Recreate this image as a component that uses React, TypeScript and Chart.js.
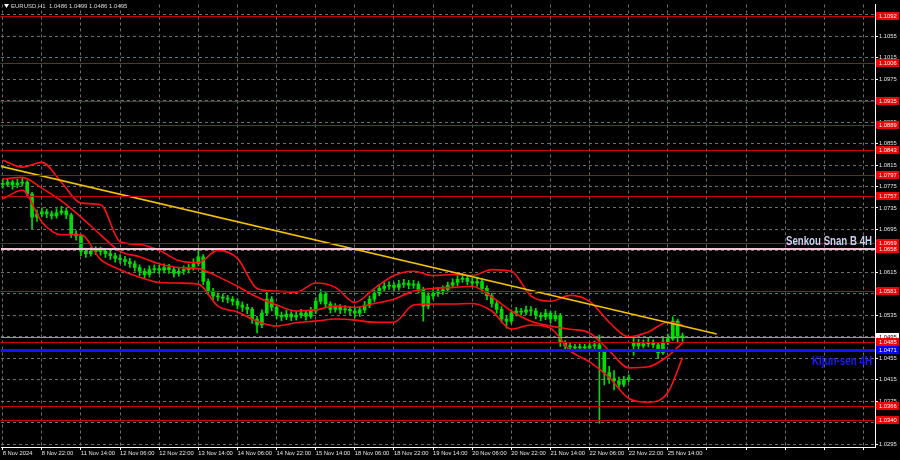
import React, { useEffect, useRef } from "react";
import { Chart, registerables } from "chart.js";

Chart.register(...registerables);

// ---------- data ----------
const titleText = "EURUSD,H1  1.0486 1.0499 1.0486 1.0495";

const timeLabels = [
  "8 Nov 2024", "8 Nov 22:00", "11 Nov 14:00", "12 Nov 06:00", "12 Nov 22:00", "13 Nov 14:00",
  "14 Nov 06:00", "14 Nov 22:00", "15 Nov 14:00", "18 Nov 06:00", "18 Nov 22:00", "19 Nov 14:00",
  "20 Nov 06:00", "20 Nov 22:00", "21 Nov 14:00", "22 Nov 06:00", "22 Nov 22:00", "25 Nov 14:00",
];

const priceTicks = [
  1.0295, 1.0335, 1.0375, 1.0415, 1.0455, 1.0495, 1.0535, 1.0575, 1.0615, 1.0655, 1.0695,
  1.0735, 1.0775, 1.0815, 1.0855, 1.0895, 1.0935, 1.0975, 1.1015, 1.1055, 1.1095,
];

const opens = [
  1.0781, 1.0779, 1.0783, 1.0778, 1.0781, 1.0783, 1.0761, 1.0718, 1.0724, 1.0728,
  1.0724, 1.0720, 1.0726, 1.0729, 1.0722, 1.0687, 1.0683, 1.0654, 1.0650, 1.0654,
  1.0656, 1.0654, 1.0650, 1.0646, 1.0641, 1.0639, 1.0635, 1.0631, 1.0624, 1.0617,
  1.0611, 1.0620, 1.0622, 1.0619, 1.0624, 1.0620, 1.0613, 1.0617, 1.0620, 1.0624,
  1.0631, 1.0644, 1.0598, 1.0580, 1.0571, 1.0569, 1.0567, 1.0565, 1.0561, 1.0554,
  1.0550, 1.0546, 1.0528, 1.0517, 1.0539, 1.0565, 1.0550, 1.0535, 1.0532, 1.0537,
  1.0532, 1.0535, 1.0539, 1.0533, 1.0543, 1.0561, 1.0574, 1.0556, 1.0546, 1.0550,
  1.0545, 1.0546, 1.0543, 1.0539, 1.0545, 1.0554, 1.0565, 1.0576, 1.0585, 1.0589,
  1.0591, 1.0587, 1.0593, 1.0595, 1.0591, 1.0593, 1.0583, 1.0552, 1.0571, 1.0576,
  1.0580, 1.0583, 1.0591, 1.0596, 1.0602, 1.0604, 1.0598, 1.0595, 1.0598, 1.0585,
  1.0571, 1.0557, 1.0546, 1.0528, 1.0524, 1.0539, 1.0543, 1.0541, 1.0545, 1.0543,
  1.0535, 1.0532, 1.0539, 1.0528, 1.0535, 1.0484, 1.0478, 1.0476, 1.0474, 1.0476,
  1.0474, 1.0478, 1.0480, 1.0469, 1.0428, 1.0417, 1.0413, 1.0406, 1.0415, 1.0478,
  1.0484, 1.0478, 1.0482, 1.0484, 1.0480, 1.0465, 1.0485, 1.0491, 1.0524, 1.0496,
];

const closes = [
  1.0779, 1.0783, 1.0778, 1.0781, 1.0783, 1.0761, 1.0718, 1.0724, 1.0728, 1.0724,
  1.0720, 1.0726, 1.0729, 1.0722, 1.0687, 1.0683, 1.0654, 1.0650, 1.0654, 1.0656,
  1.0654, 1.0650, 1.0646, 1.0641, 1.0639, 1.0635, 1.0631, 1.0624, 1.0617, 1.0611,
  1.0620, 1.0622, 1.0619, 1.0624, 1.0620, 1.0613, 1.0617, 1.0620, 1.0624, 1.0631,
  1.0644, 1.0598, 1.0580, 1.0571, 1.0569, 1.0567, 1.0565, 1.0561, 1.0554, 1.0550,
  1.0546, 1.0528, 1.0517, 1.0539, 1.0565, 1.0550, 1.0535, 1.0532, 1.0537, 1.0532,
  1.0535, 1.0539, 1.0533, 1.0543, 1.0561, 1.0574, 1.0556, 1.0546, 1.0550, 1.0545,
  1.0546, 1.0543, 1.0539, 1.0545, 1.0554, 1.0565, 1.0576, 1.0585, 1.0589, 1.0591,
  1.0587, 1.0593, 1.0595, 1.0591, 1.0593, 1.0583, 1.0552, 1.0571, 1.0576, 1.0580,
  1.0583, 1.0591, 1.0596, 1.0602, 1.0604, 1.0598, 1.0595, 1.0598, 1.0585, 1.0571,
  1.0557, 1.0546, 1.0528, 1.0524, 1.0539, 1.0543, 1.0541, 1.0545, 1.0543, 1.0535,
  1.0532, 1.0539, 1.0528, 1.0535, 1.0484, 1.0478, 1.0476, 1.0474, 1.0476, 1.0474,
  1.0478, 1.0480, 1.0469, 1.0428, 1.0417, 1.0413, 1.0406, 1.0415, 1.0419, 1.0484,
  1.0478, 1.0482, 1.0484, 1.0480, 1.0465, 1.0485, 1.0491, 1.0524, 1.0496, 1.0495,
];

const highs = [
  1.0788, 1.0790, 1.0787, 1.0789, 1.0792, 1.0786, 1.0764, 1.0731, 1.0735, 1.0733,
  1.0729, 1.0734, 1.0738, 1.0735, 1.0725, 1.0693, 1.0686, 1.0660, 1.0661, 1.0663,
  1.0662, 1.0659, 1.0656, 1.0651, 1.0648, 1.0645, 1.0641, 1.0636, 1.0629, 1.0622,
  1.0627, 1.0629, 1.0628, 1.0631, 1.0630, 1.0625, 1.0624, 1.0627, 1.0631, 1.0640,
  1.0656, 1.0648, 1.0603, 1.0585, 1.0577, 1.0575, 1.0572, 1.0570, 1.0566, 1.0560,
  1.0556, 1.0550, 1.0533, 1.0545, 1.0580, 1.0570, 1.0555, 1.0541, 1.0544, 1.0542,
  1.0542, 1.0546, 1.0543, 1.0550, 1.0568, 1.0583, 1.0578, 1.0560, 1.0557, 1.0555,
  1.0553, 1.0551, 1.0548, 1.0551, 1.0561, 1.0571, 1.0582, 1.0592, 1.0596, 1.0598,
  1.0596, 1.0600, 1.0602, 1.0600, 1.0600, 1.0598, 1.0587, 1.0577, 1.0583, 1.0587,
  1.0590, 1.0597, 1.0603, 1.0609, 1.0613, 1.0610, 1.0604, 1.0606, 1.0603, 1.0590,
  1.0576, 1.0562, 1.0551, 1.0533, 1.0545, 1.0550, 1.0548, 1.0552, 1.0551, 1.0548,
  1.0540, 1.0546, 1.0543, 1.0543, 1.0538, 1.0488, 1.0483, 1.0481, 1.0482, 1.0481,
  1.0484, 1.0487, 1.0498, 1.0472, 1.0440, 1.0432, 1.0420, 1.0421, 1.0424, 1.0492,
  1.0490, 1.0489, 1.0492, 1.0489, 1.0484, 1.0492, 1.0500, 1.0532, 1.0528, 1.0502,
];

const lows = [
  1.0772, 1.0775, 1.0770, 1.0773, 1.0776, 1.0755, 1.0696, 1.0710, 1.0719, 1.0717,
  1.0714, 1.0716, 1.0722, 1.0715, 1.0680, 1.0675, 1.0646, 1.0643, 1.0645, 1.0648,
  1.0647, 1.0643, 1.0639, 1.0634, 1.0632, 1.0628, 1.0624, 1.0617, 1.0609, 1.0604,
  1.0606, 1.0614, 1.0612, 1.0614, 1.0613, 1.0606, 1.0608, 1.0611, 1.0614, 1.0619,
  1.0627, 1.0592, 1.0573, 1.0564, 1.0562, 1.0560, 1.0558, 1.0554, 1.0547, 1.0542,
  1.0538, 1.0520, 1.0502, 1.0512, 1.0535, 1.0543, 1.0528, 1.0525, 1.0527, 1.0525,
  1.0526, 1.0530, 1.0526, 1.0529, 1.0538, 1.0556, 1.0550, 1.0539, 1.0541, 1.0538,
  1.0539, 1.0536, 1.0531, 1.0533, 1.0540, 1.0549, 1.0560, 1.0571, 1.0580, 1.0583,
  1.0580, 1.0582, 1.0587, 1.0584, 1.0585, 1.0576, 1.0524, 1.0547, 1.0565, 1.0570,
  1.0574, 1.0578, 1.0586, 1.0590, 1.0596, 1.0592, 1.0588, 1.0589, 1.0578, 1.0564,
  1.0550, 1.0539, 1.0521, 1.0511, 1.0520, 1.0534, 1.0535, 1.0536, 1.0536, 1.0528,
  1.0525, 1.0527, 1.0521, 1.0524, 1.0477, 1.0470, 1.0470, 1.0468, 1.0469, 1.0468,
  1.0469, 1.0472, 1.0334, 1.0405, 1.0408, 1.0396, 1.0398, 1.0402, 1.0411, 1.0460,
  1.0472, 1.0474, 1.0476, 1.0474, 1.0454, 1.0462, 1.0480, 1.0488, 1.0484, 1.0486,
];

const bandIndex = [
  0, 4, 8, 12, 16, 20, 24, 28, 32, 36, 40, 44, 48, 52, 56, 60, 64, 68,
  72, 76, 80, 84, 88, 92, 96, 100, 104, 108, 112, 116, 120, 124, 128, 132, 136, 139,
];
const upperBand = [
  1.0824, 1.0811, 1.0820, 1.0783, 1.0744, 1.0741, 1.0672, 1.0667, 1.0656, 1.0637, 1.0633, 1.0656,
  1.0641, 1.0585, 1.0580, 1.0578, 1.0595, 1.0587, 1.0559, 1.0585, 1.0609, 1.0617, 1.0609, 1.0611,
  1.0609, 1.0620, 1.0617, 1.0571, 1.0561, 1.0572, 1.0561, 1.0522, 1.0495, 1.0504, 1.0522, 1.0517,
];
const middleBand = [
  1.0789, 1.0792, 1.0772, 1.0748, 1.0718, 1.0685, 1.0654, 1.0644, 1.0631, 1.0624, 1.0622, 1.0607,
  1.0589, 1.0569, 1.0554, 1.0543, 1.0545, 1.0552, 1.0550, 1.0557, 1.0565, 1.0580, 1.0585, 1.0587,
  1.0589, 1.0569, 1.0543, 1.0524, 1.0515, 1.0509, 1.0502, 1.0469, 1.0437, 1.0439, 1.0459, 1.0484,
];
const lowerBand = [
  1.0752, 1.0768, 1.0709, 1.0685, 1.0685, 1.0639, 1.0620, 1.0606, 1.0596, 1.0595, 1.0593, 1.0552,
  1.0541, 1.0524, 1.0515, 1.0521, 1.0524, 1.0528, 1.0526, 1.0522, 1.0522, 1.0554, 1.0556, 1.0556,
  1.0557, 1.0543, 1.0509, 1.0517, 1.0511, 1.0469, 1.0448, 1.0419, 1.0380, 1.0373, 1.0391, 1.0456,
];

const trendIndex = [-0.55, 146];
const trendPrice = [1.0813, 1.05];

const redLevels = [1.1092, 1.1006, 1.0935, 1.0889, 1.0843, 1.0797, 1.0757, 1.0669, 1.0581, 1.0485, 1.0366, 1.034];
const senkouSpanB = 1.0658;
const kijunSen = 1.0471;
const lastClose = 1.0495;
const senkouText = "Senkou Snan B 4H";
const kijunText = "Kijun-sen 4H";

// ---------- layout ----------
const X_MIN = -0.35;
const X_MAX = 178.35;
const Y_MIN = 1.02895;
const Y_MAX = 1.11142;
const FONT = '"Liberation Sans", Arial, sans-serif';

const mtPlugin = {
  id: "mtOverlay",
  afterDatasetsDraw(chart: any) {
    const { ctx, chartArea: a } = chart;
    const y = chart.scales.y;
    ctx.save();
    ctx.beginPath();
    ctx.rect(a.left, a.top, a.right - a.left, a.bottom - a.top);
    ctx.clip();
    const hline = (v: number, color: string, w: number) => {
      const py = Math.round(y.getPixelForValue(v)) + (w % 2 ? 0.5 : 0);
      ctx.strokeStyle = color;
      ctx.lineWidth = w;
      ctx.setLineDash([]);
      ctx.beginPath();
      ctx.moveTo(a.left, py);
      ctx.lineTo(a.right, py);
      ctx.stroke();
    };
    hline(lastClose, "#8c96a8", 1);
    redLevels.forEach((v) => hline(v, "#c80000", 1));
    hline(senkouSpanB, "#f2c6d6", 2);
    hline(kijunSen, "#1414ff", 3);

    const label = (text: string, v: number, dy: number, color: string, width: number) => {
      ctx.font = `bold 12px ${FONT}`;
      const w = ctx.measureText(text).width;
      const sx = width / w;
      const py = y.getPixelForValue(v) + dy;
      ctx.save();
      ctx.translate(a.right - 3 - width, py);
      ctx.scale(sx, 1);
      ctx.textAlign = "left";
      ctx.textBaseline = "alphabetic";
      ctx.fillStyle = color;
      ctx.fillText(text, 0, 0);
      ctx.restore();
    };
    label(senkouText, senkouSpanB, -4, "#cfd0ee", 86);
    label(kijunText, kijunSen, 15, "#1a1aff", 60);
    ctx.restore();
  },
  afterDraw(chart: any) {
    const { ctx, chartArea: a } = chart;
    const y = chart.scales.y;
    ctx.save();
    const box = (v: number, bg: string, fg: string) => {
      const py = y.getPixelForValue(v);
      ctx.fillStyle = bg;
      ctx.fillRect(a.right + 1, Math.round(py) - 4, 23, 8);
      ctx.fillStyle = fg;
      ctx.font = `5.8px ${FONT}`;
      ctx.textAlign = "left";
      ctx.textBaseline = "middle";
      ctx.fillText(v.toFixed(4), a.right + 4, Math.round(py) + 0.5);
    };
    box(lastClose, "#ffffff", "#000000");
    redLevels.forEach((v) => box(v, "#f00000", "#ffffff"));
    box(senkouSpanB, "#f00000", "#ffffff");
    box(kijunSen, "#0000ff", "#ffffff");

    // title
    ctx.fillStyle = "#ffffff";
    ctx.beginPath();
    ctx.moveTo(4, 4);
    ctx.lineTo(9, 4);
    ctx.lineTo(6.5, 8);
    ctx.closePath();
    ctx.fill();
    ctx.fillStyle = "#d8d8d8";
    ctx.font = `6px ${FONT}`;
    ctx.textAlign = "left";
    ctx.textBaseline = "middle";
    ctx.fillText(titleText, 11, 6.5);
    ctx.restore();
  },
};

export default function App() {
  const ref = useRef<HTMLCanvasElement>(null);

  useEffect(() => {
    const canvas = ref.current;
    if (!canvas) return;
    const wicks = closes.map((_, i) => ({ x: i, y: [lows[i], highs[i]] }));
    const bodies = closes.map((c, i) => ({ x: i, y: [opens[i], c] }));
    const band = (vals: number[]) => bandIndex.map((x, i) => ({ x, y: vals[i] }));
    const trend = trendIndex.map((x, i) => ({ x, y: trendPrice[i] }));

    const chart = new Chart(canvas, {
      type: "bar",
      data: {
        datasets: [
          {
            type: "line",
            data: trend,
            borderColor: "#f2c200",
            borderWidth: 1.6,
            pointRadius: 0,
            tension: 0,
          } as any,
          {
            type: "line",
            data: band(upperBand),
            borderColor: "#ff1010",
            borderWidth: 1.6,
            pointRadius: 0,
            cubicInterpolationMode: "monotone",
          } as any,
          {
            type: "line",
            data: band(middleBand),
            borderColor: "#ff1010",
            borderWidth: 1.6,
            pointRadius: 0,
            cubicInterpolationMode: "monotone",
          } as any,
          {
            type: "line",
            data: band(lowerBand),
            borderColor: "#ff1010",
            borderWidth: 1.6,
            pointRadius: 0,
            cubicInterpolationMode: "monotone",
          } as any,
          {
            type: "bar",
            data: bodies,
            backgroundColor: "#00dd00",
            borderWidth: 0,
            barThickness: 3,
            minBarLength: 1,
            grouped: false,
          } as any,
          {
            type: "bar",
            data: wicks,
            backgroundColor: "#00dd00",
            borderWidth: 0,
            barThickness: 1,
            grouped: false,
          } as any,
        ],
      },
      options: {
        responsive: false,
        animation: false,
        events: [],
        layout: { padding: { left: 1, top: 1, right: 0, bottom: 0 } },
        plugins: {
          legend: { display: false },
          tooltip: { enabled: false },
          title: { display: false },
        },
        scales: {
          x: {
            type: "linear",
            min: X_MIN,
            max: X_MAX,
            offset: false,
            grid: {
              color: "#6e6e6e",
              lineWidth: 1,
              offset: false,
              drawTicks: true,
              tickLength: 3,
              tickColor: "#ffffff",
              tickWidth: 1,
            },
            border: { display: true, color: "#ffffff", width: 1, dash: [3, 3] },
            ticks: {
              autoSkip: false,
              maxRotation: 0,
              minRotation: 0,
              align: "start",
              padding: 0,
              color: "#e6e6e6",
              font: { family: FONT, size: 5.8 },
              callback: (v: any) => {
                const k = Math.round(Number(v) / 8);
                return k < timeLabels.length ? timeLabels[k] : "";
              },
            },
            afterBuildTicks: (s: any) => {
              s.ticks = Array.from({ length: 23 }, (_, k) => ({ value: k * 8 }));
            },
            afterFit: (s: any) => {
              s.height = 13;
            },
          } as any,
          y: {
            type: "linear",
            position: "right",
            min: Y_MIN,
            max: Y_MAX,
            grid: {
              color: "#6e6e6e",
              lineWidth: 1,
              drawTicks: true,
              tickLength: 3,
              tickColor: "#ffffff",
              tickWidth: 1,
            },
            border: { display: true, color: "#ffffff", width: 1, dash: [3, 3] },
            ticks: {
              autoSkip: false,
              padding: 1,
              color: "#e6e6e6",
              font: { family: FONT, size: 5.8 },
              callback: (v: any) => Number(v).toFixed(4),
            },
            afterBuildTicks: (s: any) => {
              s.ticks = priceTicks.map((v) => ({ value: v }));
            },
            afterFit: (s: any) => {
              s.width = 25;
            },
          } as any,
        },
      },
      plugins: [mtPlugin],
    });
    return () => chart.destroy();
  }, []);

  return (
    <div style={{ position: "fixed", left: 0, top: 0, width: 900, height: 460, background: "#000" }}>
      <canvas ref={ref} width={900} height={460} style={{ display: "block" }} />
    </div>
  );
}
